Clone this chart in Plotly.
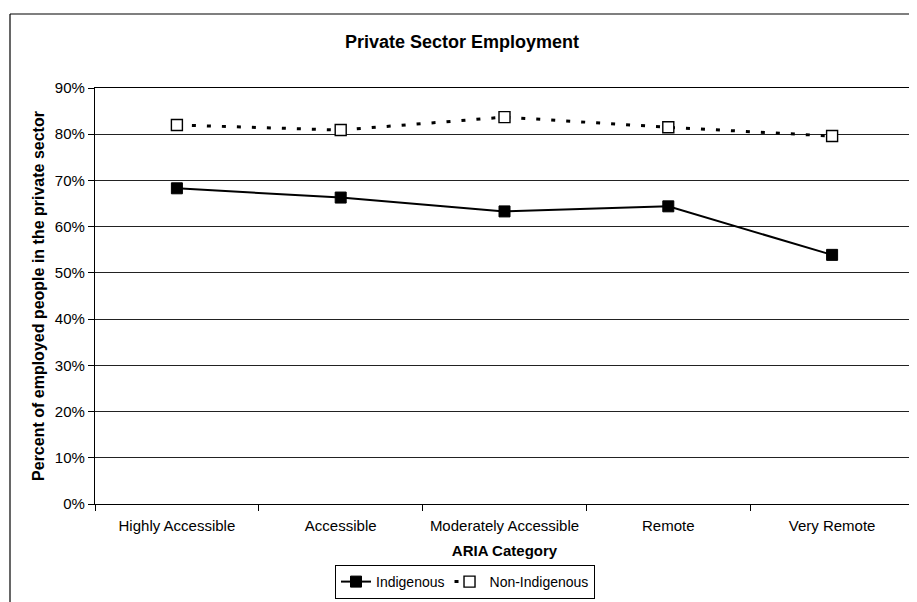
import plotly.graph_objects as go

categories = ["Highly Accessible", "Accessible", "Moderately Accessible", "Remote", "Very Remote"]
indigenous = [68.3, 66.3, 63.3, 64.4, 53.9]
non_indigenous = [82.0, 80.9, 83.7, 81.5, 79.6]
y_ticks = [0, 10, 20, 30, 40, 50, 60, 70, 80, 90]
y_tick_labels = [f"{v}%" for v in y_ticks]

FONT = "Liberation Sans, Arial, sans-serif"

fig = go.Figure()
fig.add_trace(go.Scatter(
    x=categories, y=indigenous, name="Indigenous", mode="lines+markers",
    line=dict(color="black", width=2),
    marker=dict(symbol="square", size=11, color="black", line=dict(color="black", width=1)),
))
fig.add_trace(go.Scatter(
    x=categories, y=non_indigenous, name="Non-Indigenous", mode="lines+markers",
    line=dict(color="black", width=3, dash="4px,11px"),
    marker=dict(symbol="square", size=11, color="white", line=dict(color="black", width=1.4)),
))

# page body has an 8px margin: figure pixel = screen pixel - 8
OFF = 8
W, H = 917 - OFF, 602 - OFF
L = 95 - OFF
T = 88 - OFF
R = W - (914 - OFF)
B = H - (504 - OFF)
pw, ph = W - L - R, H - T - B

def px_x(sx):
    return (sx - OFF - L) / pw

def px_y(sy):
    return (H - B - (sy - OFF)) / ph

fig.update_layout(
    width=W, height=H,
    margin=dict(l=L, r=R, t=T, b=B, pad=0, autoexpand=False),
    paper_bgcolor="white", plot_bgcolor="white",
    font=dict(family=FONT, size=15, color="black"),
    title=dict(text="<b>Private Sector Employment</b>", x=px_x(462), xref="paper", xanchor="center",
               y=1 - (42 - OFF) / H, yanchor="middle", font=dict(size=18, family=FONT), automargin=False),
    showlegend=True,
    legend=dict(orientation="h", x=px_x(465), xanchor="center", y=px_y(582), yanchor="middle",
                bordercolor="black", borderwidth=1, bgcolor="white",
                font=dict(size=14, family=FONT), tracegroupgap=0),
    shapes=[
        dict(type="line", xref="paper", yref="paper", x0=px_x(10), x1=px_x(10), y0=px_y(620), y1=px_y(14),
             line=dict(color="black", width=1.2)),
        dict(type="line", xref="paper", yref="paper", x0=px_x(10), x1=px_x(930), y0=px_y(14), y1=px_y(14),
             line=dict(color="black", width=1.2)),
    ],
)

fig.update_xaxes(
    type="category", range=[-0.5, len(categories) - 0.5],
    tickson="boundaries", ticks="outside", ticklen=6, tickcolor="black",
    showline=True, linecolor="black", linewidth=1.2, mirror=True, automargin=False,
    showgrid=False, tickfont=dict(size=15, family=FONT), ticklabelstandoff=8,
    title=dict(text="<b>ARIA Category</b>", font=dict(size=15, family=FONT), standoff=12),
)
fig.update_yaxes(
    range=[0, 90], tickmode="array", tickvals=y_ticks, ticktext=y_tick_labels,
    ticks="outside", ticklen=6, tickcolor="black", automargin=False,
    showline=True, linecolor="black", linewidth=1.2, mirror=True,
    showgrid=True, gridcolor="#222", gridwidth=1, zeroline=False,
    tickfont=dict(size=15, family=FONT),
    title=dict(text="<b>Percent of employed people in the private sector</b>",
               font=dict(size=16, family=FONT), standoff=6),
)

fig.write_html("out.html")
